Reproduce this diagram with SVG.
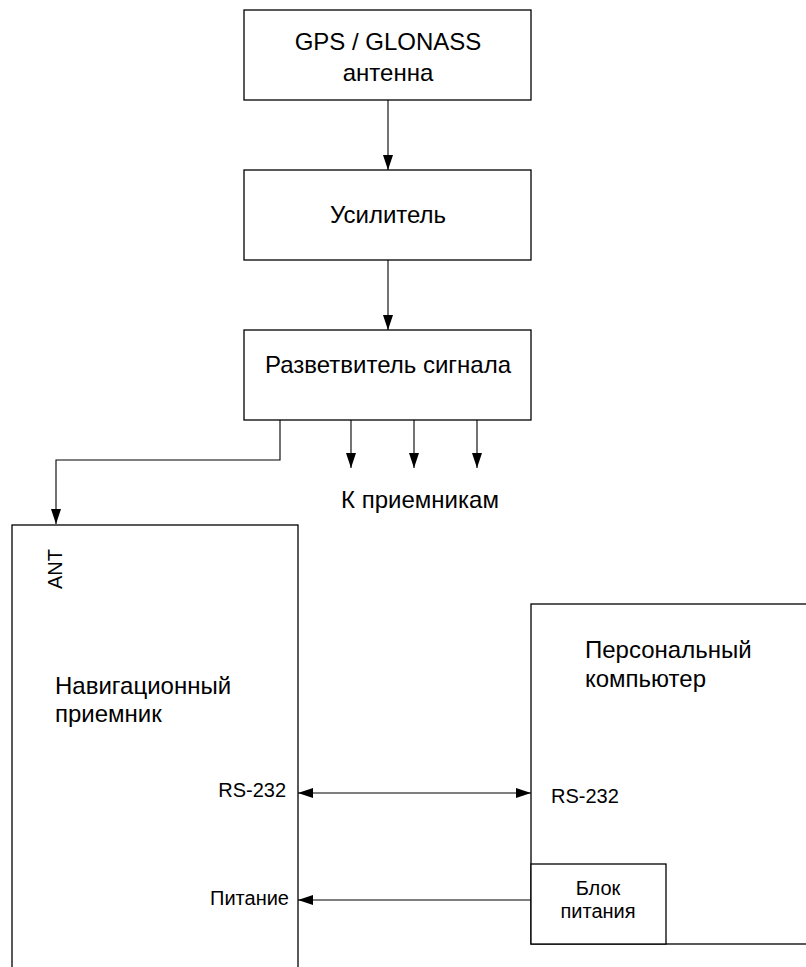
<svg xmlns="http://www.w3.org/2000/svg" width="806" height="967" viewBox="0 0 806 967">
<style>
.box{fill:#fff;stroke:#000;stroke-width:1.3}
.ln{fill:none;stroke:#000;stroke-width:1.1}
.t{font-family:"Liberation Sans",Arial,sans-serif;font-size:24px;fill:#000}
.s{font-family:"Liberation Sans",Arial,sans-serif;font-size:20px;fill:#000}
</style>
<defs>
<marker id="ah2" viewBox="0 0 15 10" refX="15" refY="5" markerWidth="15" markerHeight="10" markerUnits="userSpaceOnUse" orient="auto-start-reverse">
<path d="M0,0 L15,5 L0,10 z" fill="#000"/>
</marker>
</defs>
<g id="antenna"><rect class="box" x="244" y="10" width="287" height="90"/>
<text class="t" x="388" y="50" text-anchor="middle">GPS / GLONASS</text>
<text class="t" x="388" y="81" text-anchor="middle">антенна</text></g>
<g id="amplifier"><rect class="box" x="244" y="170" width="287" height="90"/>
<text class="t" x="388" y="223" text-anchor="middle">Усилитель</text></g>
<g id="splitter"><rect class="box" x="244" y="330" width="287" height="90"/>
<text class="t" x="388" y="373" text-anchor="middle">Разветвитель сигнала</text></g>
<g id="receivers-label"><text class="t" x="420" y="508" text-anchor="middle">К приемникам</text></g>
<g id="nav-receiver"><rect class="box" x="12" y="525" width="286" height="460"/>
<text class="s" transform="translate(62,589) rotate(-90)">ANT</text>
<text class="t" x="55" y="694">Навигационный</text>
<text class="t" x="55" y="722">приемник</text>
<text class="s" x="286" y="797" text-anchor="end">RS-232</text>
<text class="s" x="289" y="905" text-anchor="end">Питание</text></g>
<g id="pc"><rect class="box" x="531" y="604" width="290" height="340"/>
<text class="t" x="585" y="658">Персональный</text>
<text class="t" x="585" y="687">компьютер</text>
<text class="s" x="551" y="803">RS-232</text></g>
<g id="psu"><rect class="box" x="531" y="864" width="135" height="80"/>
<text class="s" x="598" y="895" text-anchor="middle">Блок</text>
<text class="s" x="598" y="918" text-anchor="middle">питания</text></g>
<g id="connectors">
<line class="ln" x1="388" y1="100" x2="388" y2="170" marker-end="url(#ah2)"/>
<line class="ln" x1="388" y1="260" x2="388" y2="330" marker-end="url(#ah2)"/>
<polyline class="ln" points="280,420 280,460 56,460 56,524" marker-end="url(#ah2)"/>
<line class="ln" x1="351" y1="420" x2="351" y2="468" marker-end="url(#ah2)"/>
<line class="ln" x1="414" y1="420" x2="414" y2="468" marker-end="url(#ah2)"/>
<line class="ln" x1="477" y1="420" x2="477" y2="468" marker-end="url(#ah2)"/>
<line class="ln" x1="298" y1="793" x2="531" y2="793" marker-start="url(#ah2)" marker-end="url(#ah2)"/>
<line class="ln" x1="531" y1="900" x2="298" y2="900" marker-end="url(#ah2)"/>
</g>
</svg>
